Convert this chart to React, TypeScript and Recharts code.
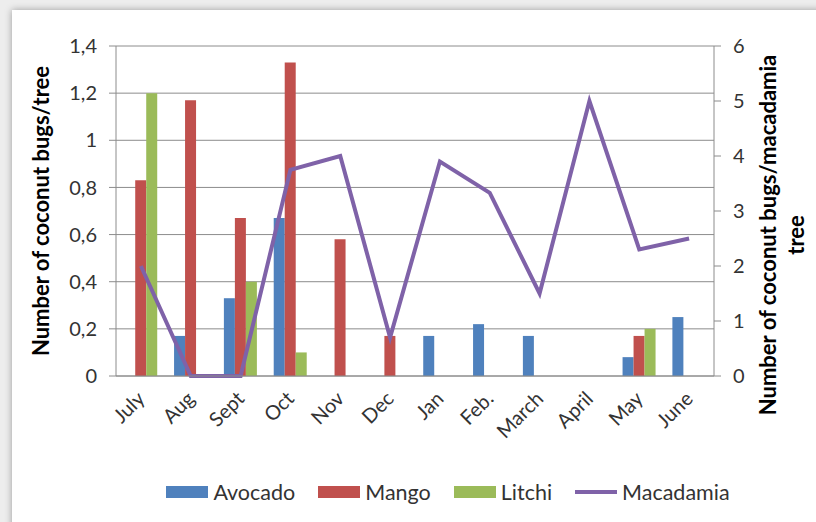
import React from "react";
import {
  Bar,
  CartesianGrid,
  ComposedChart,
  Legend,
  Line,
  XAxis,
  YAxis,
} from "recharts";

// Monthly coconut bug counts per tree: bars on the left axis, macadamia line on the right axis

const months = ["July", "Aug", "Sept", "Oct", "Nov", "Dec", "Jan", "Feb.", "March", "April", "May", "June"];
const avocado = [0, 0.17, 0.33, 0.67, 0, 0, 0.17, 0.22, 0.17, 0, 0.08, 0.25];
const mango = [0.83, 1.17, 0.67, 1.33, 0.58, 0.17, 0, 0, 0, 0, 0.17, 0];
const litchi = [1.2, 0, 0.4, 0.1, 0, 0, 0, 0, 0, 0, 0.2, 0];
const macadamia = [2, 0, 0, 3.75, 4, 0.7, 3.9, 3.33, 1.5, 5, 2.3, 2.5];

const leftTicks = [0, 0.2, 0.4, 0.6, 0.8, 1, 1.2, 1.4];
const rightTicks = [0, 1, 2, 3, 4, 5, 6];
// category boundaries, used only for the tick marks between months
const edgeTicks = [0, 1, 2, 3, 4, 5, 6, 7, 8, 9, 10, 11, 12];
const legendOrder = ["Avocado", "Mango", "Litchi", "Macadamia"];

// axis ids: the boundary axis (0) sits right under the plot, the month axis (1) below it
const EDGE_AXIS = 0;
const MONTH_AXIS = 1;

const COLORS = {
  avocado: "#4f81bd",
  mango: "#c0504d",
  litchi: "#9bbb59",
  macadamia: "#7f62a8",
};
const GRID = "#8c8c8c";
const AXIS = "#8c8c8c";
const TEXT = "#333";

const data = months.map((month, i) => ({
  month,
  Avocado: avocado[i],
  Mango: mango[i],
  Litchi: litchi[i],
  Macadamia: macadamia[i],
}));

const commaDecimal = (v: number) => String(v).replace(".", ",");

function LeftTitle({ viewBox }: any) {
  const cx = viewBox.x + 29;
  const cy = viewBox.y + viewBox.height / 2;
  return (
    <text
      x={cx}
      y={cy}
      transform={`rotate(-90 ${cx} ${cy})`}
      textAnchor="middle"
      fontSize={22}
      fontWeight="bold"
      fill="#000"
    >
      Number of coconut bugs/tree
    </text>
  );
}

function RightTitle({ viewBox }: any) {
  const cx = viewBox.x + 62;
  const cy = viewBox.y + viewBox.height / 2 + 24;
  return (
    <text
      x={cx}
      y={cy}
      transform={`rotate(-90 ${cx} ${cy})`}
      textAnchor="middle"
      fontSize={22}
      fontWeight="bold"
      fill="#000"
    >
      <tspan x={cx} dy={0}>Number of coconut bugs/macadamia</tspan>
      <tspan x={cx} dy={28}>tree</tspan>
    </text>
  );
}

function LegendRow({ payload }: any) {
  const items = [...(payload || [])].sort(
    (a: any, b: any) => legendOrder.indexOf(a.value) - legendOrder.indexOf(b.value)
  );
  return (
    <div
      style={{
        display: "flex",
        justifyContent: "center",
        alignItems: "center",
        gap: 23,
        height: 24,
        fontSize: 21.5,
        color: TEXT,
      }}
    >
      {items.map((item: any) => (
        <div key={item.value} style={{ display: "flex", alignItems: "center", gap: 5 }}>
          <span
            style={{
              display: "inline-block",
              width: 42,
              height: item.type === "line" ? 4 : 12,
              background: item.color,
            }}
          />
          <span>{item.value}</span>
        </div>
      ))}
    </div>
  );
}

export default function App() {
  return (
    <div style={{ position: "relative", width: 816, height: 522, background: "#ededed", overflow: "hidden" }}>
      <style>{"body{margin:0}"}</style>
      <div
        style={{
          position: "absolute",
          left: 12,
          top: 10,
          width: 820,
          height: 530,
          background: "#fff",
          boxShadow: "0 0 7px rgba(0,0,0,0.35)",
        }}
      />
      <div style={{ position: "absolute", left: 0, top: 0, fontFamily: "Lato, 'Open Sans', sans-serif" }}>
        <ComposedChart
          width={816}
          height={522}
          data={data}
          margin={{ top: 46, right: 2, left: 20, bottom: 41 }}
          barCategoryGap="16.5%"
          barGap={0}
        >
          <XAxis
            xAxisId={EDGE_AXIS}
            type="number"
            domain={[0, 12]}
            ticks={edgeTicks}
            tick={false}
            height={1}
            axisLine={{ stroke: AXIS }}
            tickLine={{ stroke: AXIS }}
            tickSize={6}
          />
          <XAxis
            xAxisId={MONTH_AXIS}
            dataKey="month"
            interval={0}
            height={80}
            angle={-45}
            textAnchor="end"
            tickLine={false}
            tickMargin={7}
            axisLine={false}
            tick={{ fontSize: 20, fill: TEXT, dx: -5 }}
          />
          <YAxis
            yAxisId="left"
            width={96}
            domain={[0, 1.4]}
            ticks={leftTicks}
            tickFormatter={commaDecimal}
            tickSize={7}
            tickMargin={12}
            axisLine={{ stroke: AXIS }}
            tickLine={{ stroke: AXIS }}
            tick={{ fontSize: 20, fill: TEXT }}
            label={<LeftTitle />}
          />
          <YAxis
            yAxisId="right"
            orientation="right"
            width={100}
            domain={[0, 6]}
            ticks={rightTicks}
            tickSize={7}
            tickMargin={12}
            axisLine={{ stroke: AXIS }}
            tickLine={{ stroke: AXIS }}
            tick={{ fontSize: 20, fill: TEXT }}
            label={<RightTitle />}
          />
          <CartesianGrid xAxisId={MONTH_AXIS} yAxisId="left" vertical={false} stroke={GRID} />
          <Bar xAxisId={MONTH_AXIS} yAxisId="left" dataKey="Avocado" fill={COLORS.avocado} isAnimationActive={false} />
          <Bar xAxisId={MONTH_AXIS} yAxisId="left" dataKey="Mango" fill={COLORS.mango} isAnimationActive={false} />
          <Bar xAxisId={MONTH_AXIS} yAxisId="left" dataKey="Litchi" fill={COLORS.litchi} isAnimationActive={false} />
          <Line
            xAxisId={MONTH_AXIS}
            yAxisId="right"
            type="linear"
            dataKey="Macadamia"
            stroke={COLORS.macadamia}
            strokeWidth={4}
            dot={false}
            legendType="line"
            isAnimationActive={false}
          />
          <Legend content={<LegendRow />} wrapperStyle={{ top: 480, left: 40, width: 816 }} />
        </ComposedChart>
      </div>
    </div>
  );
}
